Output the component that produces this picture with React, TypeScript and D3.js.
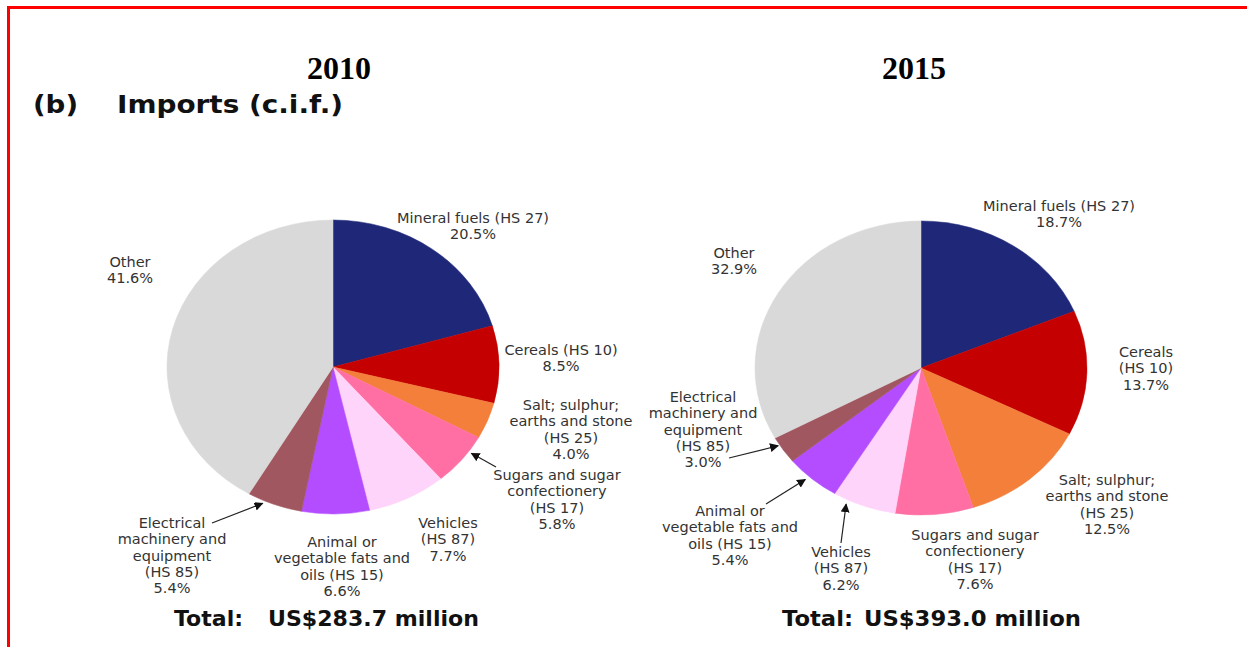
import React from "react";
import * as d3 from "d3";

const categories = [
  "Mineral fuels",
  "Cereals",
  "Salt; sulphur; earths and stone",
  "Sugars and sugar confectionery",
  "Vehicles",
  "Animal or vegetable fats and oils",
  "Electrical machinery and equipment",
  "Other",
];
const colors = ["#1f2878", "#c40000", "#f47f3b", "#ff6fa4", "#ffd4fa", "#b34dff", "#a0575f", "#d9d9d9"];
const values2010 = [20.5, 8.5, 4.0, 5.8, 7.7, 6.6, 5.4, 41.6];
const values2015 = [18.7, 13.7, 12.5, 7.6, 6.2, 5.4, 3.0, 32.9];
const years = ["2010", "2015"];
const totals = ["US$283.7 million", "US$393.0 million"];

const labels2010 = [
  ["Mineral fuels (HS 27)", "20.5%"],
  ["Cereals (HS 10)", "8.5%"],
  ["Salt; sulphur;", "earths and stone", "(HS 25)", "4.0%"],
  ["Sugars and sugar", "confectionery", "(HS 17)", "5.8%"],
  ["Vehicles", "(HS 87)", "7.7%"],
  ["Animal or", "vegetable fats and", "oils (HS 15)", "6.6%"],
  ["Electrical", "machinery and", "equipment", "(HS 85)", "5.4%"],
  ["Other", "41.6%"],
];
const labels2015 = [
  ["Mineral fuels (HS 27)", "18.7%"],
  ["Cereals", "(HS 10)", "13.7%"],
  ["Salt; sulphur;", "earths and stone", "(HS 25)", "12.5%"],
  ["Sugars and sugar", "confectionery", "(HS 17)", "7.6%"],
  ["Vehicles", "(HS 87)", "6.2%"],
  ["Animal or", "vegetable fats and", "oils (HS 15)", "5.4%"],
  ["Electrical", "machinery and", "equipment", "(HS 85)", "3.0%"],
  ["Other", "32.9%"],
];

// layout: label centre x, first baseline y; optional arrow: start point, position within slice, radius factor
type Lay = { x: number; y: number; arrow?: { x: number; y: number; f: number; r: number } };
const layout2010: Lay[] = [
  { x: 473, y: 223 },
  { x: 561, y: 355 },
  { x: 571, y: 410 },
  { x: 557, y: 480, arrow: { x: 496, y: 467, f: 0.31, r: 1.02 } },
  { x: 448, y: 528 },
  { x: 342, y: 547 },
  { x: 172, y: 528, arrow: { x: 212, y: 523, f: 0.7, r: 1.02 } },
  { x: 130, y: 267 },
];
const layout2015: Lay[] = [
  { x: 1059, y: 211 },
  { x: 1146, y: 357 },
  { x: 1107, y: 485 },
  { x: 975, y: 540 },
  { x: 841, y: 557, arrow: { x: 841, y: 543, f: 0.76, r: 1.03 } },
  { x: 730, y: 516, arrow: { x: 766, y: 504, f: 0.58, r: 1.03 } },
  { x: 703, y: 402, arrow: { x: 729, y: 458, f: 0.71, r: 1.01 } },
  { x: 734, y: 258 },
];

const RY = 147;
const RX = 166;
const LINE = 16.3;
const labelFont = "'DejaVu Sans', Verdana, sans-serif";

function Pie({ cx, cy, values, labels, lay, idx }: { cx: number; cy: number; values: number[]; labels: string[][]; lay: Lay[]; idx: number }) {
  const pie = d3.pie<number>().sort(null).value((d) => d);
  const arcs = pie(values);
  const arc = d3.arc<d3.PieArcDatum<number>>().innerRadius(0).outerRadius(RY);
  const sx = RX / RY;
  return (
    <g>
      <g transform={`translate(${cx},${cy}) scale(${sx},1)`}>
        {arcs.map((a, i) => (
          <path key={i} d={arc(a) || ""} fill={colors[i]} stroke={colors[i]} strokeWidth={0.5} />
        ))}
      </g>
      {arcs.map((a, i) => {
        const L = lay[i];
        let arrowEl = null;
        if (L.arrow) {
          const ang = a.startAngle + L.arrow.f * (a.endAngle - a.startAngle);
          const tx = cx + Math.sin(ang) * RX * L.arrow.r;
          const ty = cy - Math.cos(ang) * RY * L.arrow.r;
          arrowEl = (
            <line x1={L.arrow.x} y1={L.arrow.y} x2={tx} y2={ty} stroke="#222" strokeWidth={1.2} markerEnd={`url(#ah${idx})`} />
          );
        }
        return (
          <g key={"l" + i}>
            {arrowEl}
            <text x={L.x} y={L.y} textAnchor="middle" fontFamily={labelFont} fontSize={14.5} fill="#333">
              {labels[i].map((s, j) => (
                <tspan key={j} x={L.x} y={L.y + j * LINE}>
                  {s}
                </tspan>
              ))}
            </text>
          </g>
        );
      })}
    </g>
  );
}

export default function App() {
  return (
    <svg width={1247} height={647} style={{ position: "fixed", left: 0, top: 0, background: "#fff" }}>
      <defs>
        {[0, 1].map((i) => (
          <marker key={i} id={`ah${i}`} viewBox="0 0 10 10" refX={9} refY={5} markerWidth={9} markerHeight={9} markerUnits="userSpaceOnUse" orient="auto">
            <path d="M0,0 L10,5 L0,10 z" fill="#111" />
          </marker>
        ))}
      </defs>
      <rect x={0} y={0} width={1247} height={647} fill="#fff" />
      <line x1={7} y1={7.5} x2={1247} y2={7.5} stroke="#ff0000" strokeWidth={3} />
      <line x1={8.5} y1={6} x2={8.5} y2={647} stroke="#ff0000" strokeWidth={3} />

      <text x={339} y={79} textAnchor="middle" fontFamily="'Liberation Serif', 'Times New Roman', serif" fontWeight="bold" fontSize={32} fill="#000">
        {years[0]}
      </text>
      <text x={914} y={79} textAnchor="middle" fontFamily="'Liberation Serif', 'Times New Roman', serif" fontWeight="bold" fontSize={32} fill="#000">
        {years[1]}
      </text>
      <text x={33} y={113} fontFamily="'DejaVu Sans', Verdana, sans-serif" fontWeight="bold" fontSize={24} fill="#111" textLength={45} lengthAdjust="spacingAndGlyphs">
        (b)
      </text>
      <text x={117} y={113} fontFamily="'DejaVu Sans', Verdana, sans-serif" fontWeight="bold" fontSize={24} fill="#111" textLength={226} lengthAdjust="spacingAndGlyphs">
        Imports (c.i.f.)
      </text>

      <Pie cx={333} cy={367} values={values2010} labels={labels2010} lay={layout2010} idx={0} />
      <Pie cx={921} cy={368} values={values2015} labels={labels2015} lay={layout2015} idx={1} />

      <text x={174} y={626} fontFamily="'DejaVu Sans', Verdana, sans-serif" fontWeight="bold" fontSize={21.5} fill="#111" textLength={69} lengthAdjust="spacingAndGlyphs">
        Total:
      </text>
      <text x={268} y={626} fontFamily="'DejaVu Sans', Verdana, sans-serif" fontWeight="bold" fontSize={21.5} fill="#111" textLength={211} lengthAdjust="spacingAndGlyphs">
        {totals[0]}
      </text>
      <text x={782} y={626} fontFamily="'DejaVu Sans', Verdana, sans-serif" fontWeight="bold" fontSize={21.5} fill="#111" textLength={71} lengthAdjust="spacingAndGlyphs">
        Total:
      </text>
      <text x={864} y={626} fontFamily="'DejaVu Sans', Verdana, sans-serif" fontWeight="bold" fontSize={21.5} fill="#111" textLength={217} lengthAdjust="spacingAndGlyphs">
        {totals[1]}
      </text>
    </svg>
  );
}
